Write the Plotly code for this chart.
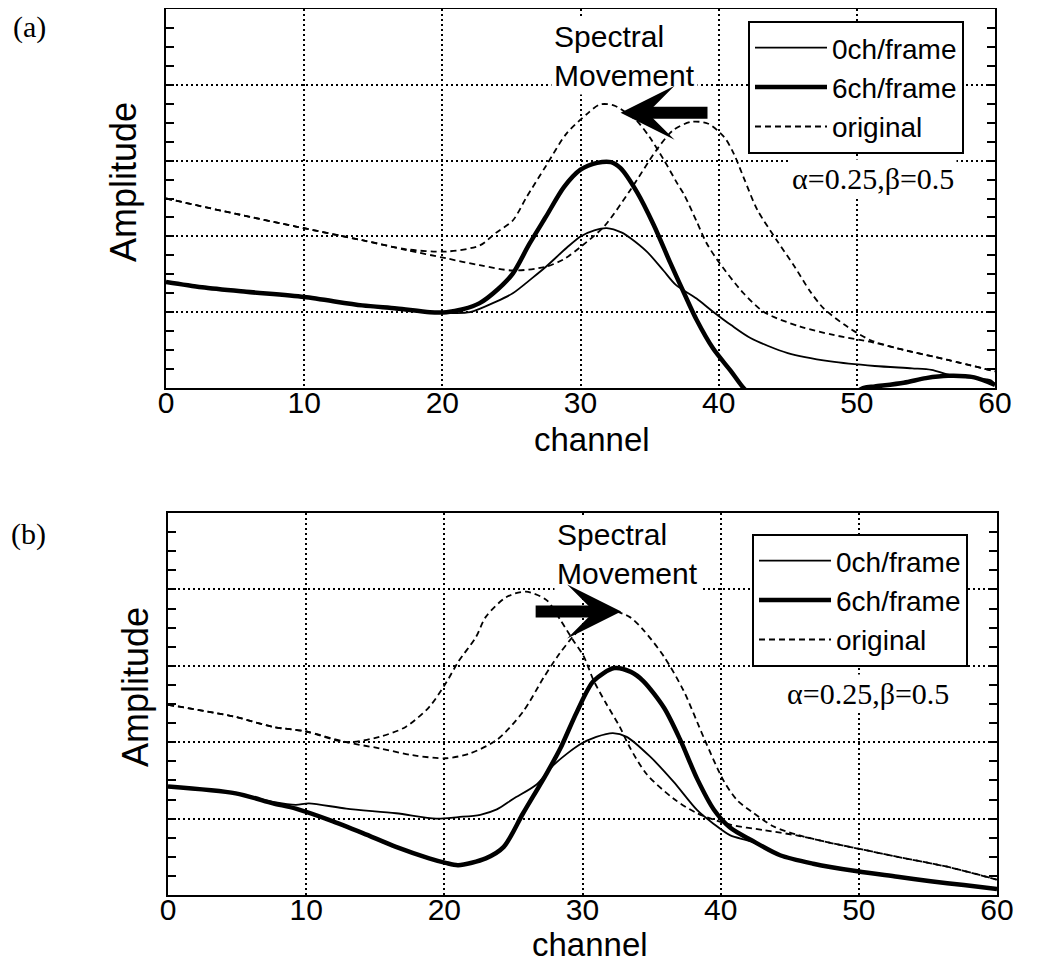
import plotly.graph_objects as go

# ---------------- Panel (a) data ----------------
a_thin_x = [0, 3, 6, 10, 13, 16, 19, 20.5, 22, 23.9, 25.1, 26.5, 27.5, 29, 30, 31, 31.9, 33, 33.6, 34.8, 36.0, 36.9, 38.4, 39.5, 40.9, 42.3, 45.0, 48.1, 51.3, 54, 55.4, 56.8, 58.5, 59.7, 60]
a_thin_y = [1.40, 1.33, 1.27, 1.20, 1.12, 1.05, 1.00, 0.99, 1.00, 1.14, 1.25, 1.45, 1.60, 1.85, 2.00, 2.08, 2.11, 2.05, 1.98, 1.80, 1.55, 1.36, 1.18, 1.02, 0.83, 0.66, 0.46, 0.35, 0.29, 0.26, 0.24, 0.17, 0.13, 0.10, 0.05]

a_thick_x = [0, 2.6, 5.8, 10, 14.2, 16.7, 19.1, 20.3, 21.5, 22.7, 24, 25.1, 26.3, 27.5, 28.8, 30, 31.2, 32.2, 32.9, 34.1, 35.3, 36.5, 37.5, 38.4, 39.6, 40.9, 41.8, 43, 45, 47, 49, 50.5, 51.3, 53.4, 55, 56.6, 58.5, 60]
a_thick_y = [1.40, 1.33, 1.27, 1.20, 1.09, 1.05, 1.00, 1.00, 1.04, 1.12, 1.30, 1.51, 1.90, 2.26, 2.65, 2.88, 2.97, 2.98, 2.90, 2.58, 2.15, 1.65, 1.25, 0.90, 0.52, 0.22, 0.0, -0.2, -0.35, -0.3, -0.15, 0.0, 0.02, 0.07, 0.13, 0.16, 0.14, 0.04]

a_orig1_x = [0, 5, 9.4, 14.2, 17.4, 20.3, 22.7, 23.9, 25.1, 26.1, 27.5, 29.0, 30.5, 31.4, 32.4, 33.4, 34.1, 35.0, 36.0, 37.0, 37.5, 38.4, 39.1, 39.9, 41.8, 43.3, 45.9, 48.3, 51.2, 53.0, 56.6, 60]
a_orig1_y = [2.50, 2.30, 2.13, 1.95, 1.83, 1.80, 1.88, 2.05, 2.21, 2.52, 2.93, 3.36, 3.62, 3.74, 3.73, 3.62, 3.52, 3.31, 3.02, 2.70, 2.55, 2.20, 1.92, 1.69, 1.25, 1.00, 0.81, 0.70, 0.60, 0.52, 0.37, 0.22]

a_orig2_x = [0, 5, 9.4, 14.2, 17.4, 20.3, 22.7, 25.1, 27.5, 28.8, 30.0, 31.7, 33.6, 35.5, 36.7, 38.0, 39.2, 40.4, 41.1, 41.8, 42.8, 44.2, 45.5, 46.6, 47.6, 49.3, 51.0, 53.0, 56.6, 60]
a_orig2_y = [2.50, 2.30, 2.13, 1.95, 1.82, 1.71, 1.62, 1.55, 1.60, 1.70, 1.86, 2.13, 2.61, 3.14, 3.40, 3.51, 3.49, 3.31, 3.09, 2.78, 2.35, 1.95, 1.60, 1.28, 1.05, 0.81, 0.63, 0.52, 0.37, 0.22]

# ---------------- Panel (b) data ----------------
b_thin_x = [0, 4.9, 7.6, 9.25, 10.2, 12.9, 16.5, 19.4, 21, 22.6, 23.8, 25.0, 26.7, 27.9, 29.8, 31.0, 32.2, 33.2, 34.9, 36.6, 38.3, 39.5, 40.7, 42.2, 44.3, 46.7, 49.9, 52.8, 55.2, 57.6, 60]
b_thin_y = [1.42, 1.33, 1.22, 1.18, 1.20, 1.13, 1.07, 1.00, 1.02, 1.05, 1.12, 1.26, 1.45, 1.70, 1.97, 2.07, 2.12, 2.07, 1.81, 1.48, 1.11, 0.93, 0.78, 0.70, 0.52, 0.41, 0.31, 0.24, 0.18, 0.13, 0.08]

b_thick_x = [0, 4.9, 7.6, 9.25, 11.7, 14.1, 16.5, 18.9, 20.1, 21.0, 23.0, 24.3, 25.7, 27.4, 28.4, 29.6, 30.8, 32.3, 33.5, 34.4, 35.9, 37.1, 38.3, 39.5, 40.7, 42.2, 44.3, 46.7, 49.9, 52.8, 55.2, 57.6, 60]
b_thick_y = [1.42, 1.33, 1.20, 1.13, 0.98, 0.81, 0.63, 0.48, 0.42, 0.39, 0.48, 0.63, 1.07, 1.59, 1.92, 2.40, 2.80, 2.97, 2.92, 2.80, 2.45, 2.02, 1.52, 1.12, 0.88, 0.72, 0.52, 0.41, 0.31, 0.24, 0.18, 0.13, 0.08]

b_orig1_x = [0, 4.9, 7.6, 10.0, 12.9, 15.3, 17.2, 18.9, 20.1, 21.0, 22.3, 23.0, 24.5, 25.9, 27.4, 28.4, 29.3, 30.1, 30.8, 31.7, 32.7, 33.4, 34.65, 36.6, 38.3, 40.7, 43.1, 45.5, 48.0, 50.4, 52.8, 56.4, 58.8, 60]
b_orig1_y = [2.49, 2.33, 2.20, 2.14, 2.00, 2.07, 2.20, 2.46, 2.77, 3.05, 3.38, 3.64, 3.90, 3.97, 3.86, 3.60, 3.34, 3.12, 2.81, 2.51, 2.20, 1.94, 1.58, 1.26, 1.07, 0.92, 0.85, 0.78, 0.68, 0.59, 0.50, 0.37, 0.26, 0.20]

b_orig2_x = [0, 4.9, 7.6, 10.0, 12.9, 15.3, 17.7, 20.1, 21.8, 23.8, 25.7, 27.2, 28.3, 29.3, 30.5, 32.0, 33.4, 34.4, 35.9, 37.3, 38.8, 40.2, 41.2, 42.4, 43.8, 45.5, 48.0, 50.4, 52.8, 56.4, 58.8, 60]
b_orig2_y = [2.49, 2.33, 2.20, 2.14, 2.00, 1.92, 1.83, 1.79, 1.85, 2.03, 2.40, 2.85, 3.15, 3.38, 3.60, 3.72, 3.64, 3.47, 3.12, 2.68, 2.05, 1.50, 1.24, 1.07, 0.90, 0.79, 0.68, 0.59, 0.50, 0.37, 0.26, 0.20]

# Spectral-movement arrows: (tail channel, tip channel, amplitude)
a_arrow = (39.3, 32.9, 3.63)
b_arrow = (26.5, 32.8, 3.71)

series_names = ["0ch/frame", "6ch/frame", "original"]
x_ticks = [0, 10, 20, 30, 40, 50, 60]
param_text = "α=0.25,β=0.5"
x_title = "channel"
y_title = "Amplitude"

SANS = "Liberation Sans, Arial, sans-serif"
SERIF = "Liberation Serif, Times New Roman, serif"
W, H = 1050, 966
OFF = 8  # page body margin in the browser


def fx(px):
    return (px - OFF) / W


def fy(py):
    return 1 - (py - OFF) / H


fig = go.Figure()

thin = dict(color="black", width=1.8)
thick = dict(color="black", width=4.5)
dash = dict(color="black", width=1.8, dash="6px,4px")


def add_panel(xa, ya, leg, thin_xy, thick_xy, o1, o2):
    fig.add_trace(go.Scatter(x=thin_xy[0], y=thin_xy[1], mode="lines", name=series_names[0],
                             line=dict(**thin, shape="spline", smoothing=0.8),
                             xaxis=xa, yaxis=ya, legend=leg))
    fig.add_trace(go.Scatter(x=thick_xy[0], y=thick_xy[1], mode="lines", name=series_names[1],
                             line=dict(**thick, shape="spline", smoothing=0.8),
                             xaxis=xa, yaxis=ya, legend=leg))
    fig.add_trace(go.Scatter(x=o1[0], y=o1[1], mode="lines", name=series_names[2],
                             line=dict(**dash, shape="spline", smoothing=0.8),
                             xaxis=xa, yaxis=ya, legend=leg, legendgroup=leg + "o"))
    fig.add_trace(go.Scatter(x=o2[0], y=o2[1], mode="lines", name=series_names[2],
                             line=dict(**dash, shape="spline", smoothing=0.8),
                             xaxis=xa, yaxis=ya, legend=leg, legendgroup=leg + "o",
                             showlegend=False))


add_panel("x", "y", "legend", (a_thin_x, a_thin_y), (a_thick_x, a_thick_y),
          (a_orig1_x, a_orig1_y), (a_orig2_x, a_orig2_y))
add_panel("x2", "y2", "legend2", (b_thin_x, b_thin_y), (b_thick_x, b_thick_y),
          (b_orig1_x, b_orig1_y), (b_orig2_x, b_orig2_y))


def xaxis_cfg(dom, anchor):
    return dict(domain=dom, anchor=anchor, range=[0, 60], tickvals=x_ticks,
                ticktext=[str(v) for v in x_ticks], automargin=False,
                showgrid=True, gridcolor="black", griddash="2px,3px", gridwidth=1.8,
                showline=True, linecolor="black", linewidth=2, mirror=True,
                ticks="", ticklen=0, zeroline=False, ticklabelstandoff=-13,
                tickfont=dict(family=SANS, size=30, color="black"))


def yaxis_cfg(dom, anchor):
    return dict(domain=dom, anchor=anchor, range=[0, 5], dtick=1, tick0=0, automargin=False,
                showgrid=True, gridcolor="black", griddash="2px,3px", gridwidth=1.8,
                showline=True, linecolor="black", linewidth=2, mirror="allticks",
                ticks="inside", ticklen=8, tickwidth=1.5, tickcolor="black",
                showticklabels=False, zeroline=False,
                minor=dict(dtick=0.25, ticks="inside", ticklen=8, tickwidth=1.5,
                           tickcolor="black", showgrid=False))


leg_common = dict(xanchor="left", yanchor="top", bgcolor="white", bordercolor="black",
                  borderwidth=2, itemwidth=72, tracegroupgap=0,
                  font=dict(family=SANS, size=28, color="black"))

fig.update_layout(
    width=W, height=H,
    margin=dict(l=0, r=0, t=0, b=0, pad=0),
    paper_bgcolor="white", plot_bgcolor="white",
    xaxis=xaxis_cfg([fx(166), fx(995)], "y"),
    yaxis=yaxis_cfg([fy(388), fy(9)], "x"),
    xaxis2=xaxis_cfg([fx(168), fx(997)], "y2"),
    yaxis2=yaxis_cfg([fy(895), fy(513)], "x2"),
    legend=dict(x=fx(748), y=fy(21), **leg_common),
    legend2=dict(x=fx(752), y=fy(534), **leg_common),
    showlegend=True,
)

annos = []
# panel labels
for lab, xp, yp in [("(a)", 29, 27), ("(b)", 28, 534)]:
    annos.append(dict(text=lab, x=fx(xp), y=fy(yp), xref="paper", yref="paper",
                      xanchor="center", yanchor="middle",
                      showarrow=False, font=dict(family=SERIF, size=30, color="black")))
# axis titles
for xp, yp in [(592, 439), (590, 944)]:
    annos.append(dict(text=x_title, x=fx(xp), y=fy(yp), xref="paper", yref="paper",
                      xanchor="center", yanchor="middle", showarrow=False,
                      font=dict(family=SANS, size=33, color="black")))
for xp, yp in [(123, 182), (135, 687)]:
    annos.append(dict(text=y_title, x=fx(xp), y=fy(yp), xref="paper", yref="paper",
                      xanchor="center", yanchor="middle", showarrow=False, textangle=-90,
                      font=dict(family=SANS, size=36, color="black")))
# Spectral movement text
for xp, yp in [(551, 17), (554, 515)]:
    annos.append(dict(text="Spectral<br>Movement", x=fx(xp), y=fy(yp), xref="paper", yref="paper",
                      xanchor="left", yanchor="top", align="left", showarrow=False,
                      bgcolor="white", borderpad=2,
                      font=dict(family=SANS, size=30, color="black")))
# parameter text
for xp, yp in [(873, 178), (868, 693)]:
    annos.append(dict(text=param_text, x=fx(xp), y=fy(yp), xref="paper", yref="paper",
                      xanchor="center", yanchor="middle",
                      showarrow=False, bgcolor="white", borderpad=2,
                      font=dict(family=SERIF, size=30, color="black")))
# arrows
for (tail, tip, amp), xr, yr in [(a_arrow, "x", "y"), (b_arrow, "x2", "y2")]:
    annos.append(dict(text="", x=tip, y=amp, ax=tail, ay=amp, xref=xr, yref=yr,
                      axref=xr, ayref=yr, showarrow=True, arrowhead=3, arrowsize=0.75,
                      arrowwidth=12, arrowcolor="black"))
fig.update_layout(annotations=annos)

fig.write_html("out.html")
